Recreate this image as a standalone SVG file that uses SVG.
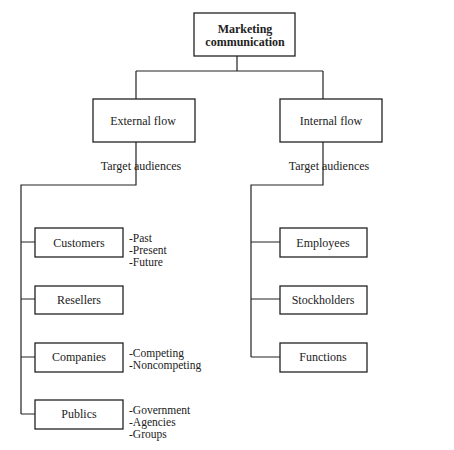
<svg xmlns="http://www.w3.org/2000/svg" width="454" height="450" viewBox="0 0 454 450">
<style>
.box{fill:#fff;stroke:#222;stroke-width:1.3}
.ln{fill:none;stroke:#222;stroke-width:1.2}
.t{font-family:'Liberation Serif','Times New Roman','DejaVu Serif',serif;font-size:12px;fill:#222}
.n{font-size:11.5px}
.c{text-anchor:middle}
.b{font-weight:bold}
</style>
<rect width="454" height="450" fill="#fff"/>
<g id="connectors">
<path class="ln" d="M237,56V71M136,71H323M136,71V99M323,71V99"/>
<path class="ln" d="M136,142V185H21V414M21,242H35M21,299H35M21,357H35M21,414H35"/>
<path class="ln" d="M323,142V185H251V357M251,242H280M251,299H280M251,357H280"/>
</g>
<g class="t" font-family="Liberation Serif, serif">
<g id="target-ext"><text class="c" x="141" y="170">Target audiences</text></g>
<g id="target-int"><text class="c" x="329" y="170">Target audiences</text></g>
<g id="marketing"><rect class="box" x="194" y="13" width="101" height="43"/><text class="c b" x="245" y="33">Marketing</text><text class="c b" x="245" y="46">communication</text></g>
<g id="external"><rect class="box" x="93" y="99" width="102" height="43"/><text class="c" x="143" y="125">External flow</text></g>
<g id="internal"><rect class="box" x="280" y="99" width="102" height="43"/><text class="c" x="331" y="125">Internal flow</text></g>
<g id="customers"><rect class="box" x="35" y="228" width="88" height="29"/><text class="c" x="79" y="247">Customers</text></g>
<g id="resellers"><rect class="box" x="35" y="286" width="88" height="28"/><text class="c" x="79" y="304">Resellers</text></g>
<g id="companies"><rect class="box" x="35" y="343" width="88" height="29"/><text class="c" x="79" y="361">Companies</text></g>
<g id="publics"><rect class="box" x="35" y="400" width="88" height="29"/><text class="c" x="79" y="418">Publics</text></g>
<g id="employees"><rect class="box" x="280" y="228" width="87" height="29"/><text class="c" x="323" y="247">Employees</text></g>
<g id="stockholders"><rect class="box" x="280" y="286" width="87" height="28"/><text class="c" x="323" y="304">Stockholders</text></g>
<g id="functions"><rect class="box" x="280" y="343" width="87" height="29"/><text class="c" x="323" y="361">Functions</text></g>
<g id="customer-notes" class="n"><text x="129" y="242">-Past</text><text x="129" y="254">-Present</text><text x="129" y="266">-Future</text></g>
<g id="company-notes" class="n"><text x="129" y="357">-Competing</text><text x="129" y="369">-Noncompeting</text></g>
<g id="public-notes" class="n"><text x="129" y="414">-Government</text><text x="129" y="426">-Agencies</text><text x="129" y="438">-Groups</text></g>
</g>
</svg>
